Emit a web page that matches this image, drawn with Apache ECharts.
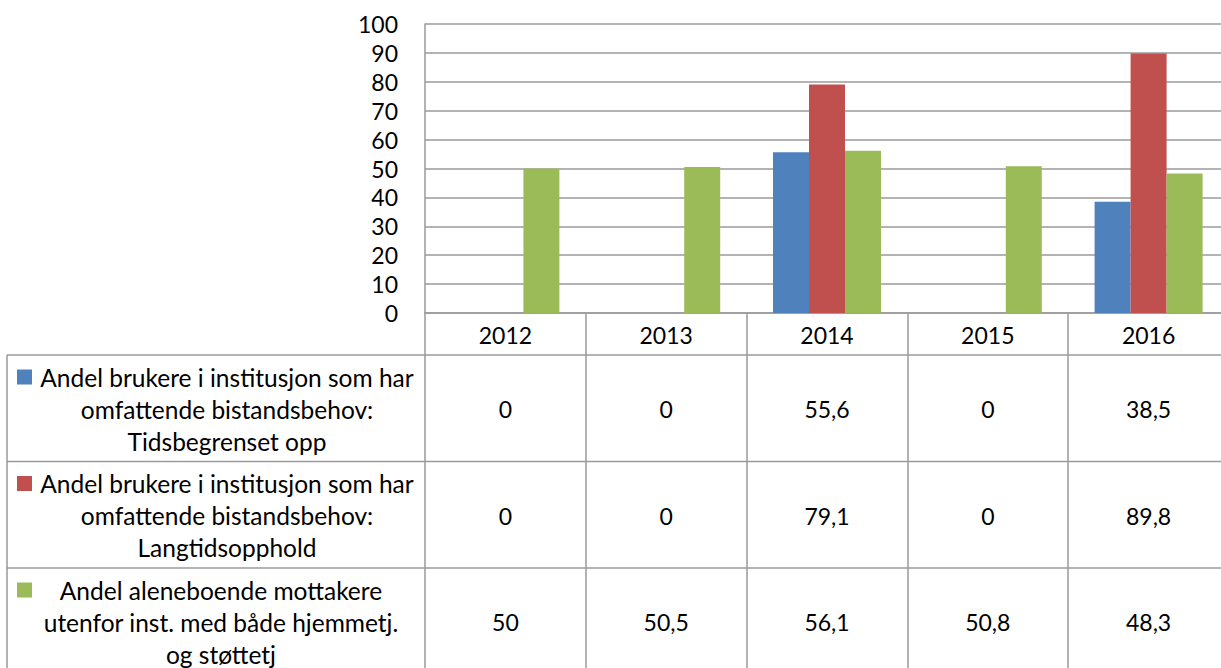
<!DOCTYPE html>
<html>
<head>
<meta charset="utf-8">
<script src="https://cdn.jsdelivr.net/npm/echarts@6/dist/echarts.min.js"></script>
<style>
  html, body { margin: 0; padding: 0; background: #fff; }
  #chart { width: 1221px; height: 668px; }
</style>
</head>
<body>
<div id="chart"></div>
<script>
// Years on the category axis / table header
const years = ['2012', '2013', '2014', '2015', '2016'];

// Series values (percent)
const tidsbegrenset = [0, 0, 55.6, 0, 38.5];
const langtidsopphold = [0, 0, 79.1, 0, 89.8];
const aleneboende = [50, 50.5, 56.1, 50.8, 48.3];

// Series names, and how they wrap in the data table's legend column
const seriesNames = [
  'Andel brukere i institusjon som har omfattende bistandsbehov: Tidsbegrenset opp',
  'Andel brukere i institusjon som har omfattende bistandsbehov: Langtidsopphold',
  'Andel aleneboende mottakere utenfor inst. med både hjemmetj. og støttetj'
];
const nameLines = [
  ['Andel brukere i institusjon som har', 'omfattende bistandsbehov:', 'Tidsbegrenset opp'],
  ['Andel brukere i institusjon som har', 'omfattende bistandsbehov:', 'Langtidsopphold'],
  ['Andel aleneboende mottakere', 'utenfor inst. med både hjemmetj.', 'og støttetj']
];
const seriesColors = ['#4F81BD', '#C0504D', '#9BBB59'];

// Y axis ticks
const yMin = 0, yMax = 100, yStep = 10;

const FONT = 'Lato, "Liberation Sans", sans-serif';
const NUM_SIZE = 23;
const NAME_SIZE = 24.5;
const LINE = '#9a9a9a';

const chart = echarts.init(document.getElementById('chart'), null, { renderer: 'svg' });

const values = [tidsbegrenset, langtidsopphold, aleneboende];

const option = {
  animation: false,
  textStyle: { fontFamily: FONT },
  grid: { left: 425, top: 24, width: 804, height: 289, outerBoundsMode: 'none', containLabel: false },
  xAxis: {
    type: 'category',
    data: years,
    axisLine: { lineStyle: { color: LINE, width: 1.5 } },
    axisTick: { show: true, length: 360, lineStyle: { color: LINE, width: 1.5 } },
    axisLabel: { fontSize: NUM_SIZE, color: '#000', margin: 10, fontFamily: FONT }
  },
  yAxis: {
    type: 'value',
    min: yMin, max: yMax, interval: yStep,
    axisLine: { show: true, lineStyle: { color: LINE, width: 1.5 } },
    axisTick: { show: false },
    axisLabel: { fontSize: NUM_SIZE, color: '#000', margin: 27, fontFamily: FONT },
    splitLine: { lineStyle: { color: LINE, width: 1.5 } }
  },
  series: values.map((data, i) => ({
    type: 'bar',
    name: seriesNames[i],
    data: data,
    barWidth: 36,
    barGap: '0%',
    itemStyle: { color: seriesColors[i] }
  }))
};

chart.setOption(option);

// Data table below the plot: rows for each series, columns aligned with the category axis
const tableTop = 355;
const rowH = 106.5;
const tableLeft = 7;
const tableRight = 1221;
const lineH = 32;
const textCenters = [227, 227, 221];

const fmt = v => String(v).replace('.', ',');

const graphics = [];

// horizontal rules of the table
for (let r = 0; r < 3; r++) {
  const y = tableTop + r * rowH;
  graphics.push({
    type: 'line',
    shape: { x1: tableLeft, y1: y, x2: tableRight, y2: y },
    style: { stroke: LINE, lineWidth: 1.5 },
    silent: true
  });
}
// left border of the legend column
graphics.push({
  type: 'line',
  shape: { x1: tableLeft, y1: tableTop, x2: tableLeft, y2: 668 },
  style: { stroke: LINE, lineWidth: 1.5 },
  silent: true
});

values.forEach((data, r) => {
  const cy = tableTop + r * rowH + 54;
  const firstLineY = cy - lineH;
  // legend key
  graphics.push({
    type: 'rect',
    shape: { x: 17, y: firstLineY - 7.5, width: 15, height: 15 },
    style: { fill: seriesColors[r] },
    silent: true
  });
  // series name
  nameLines[r].forEach((t, k) => {
    graphics.push({
      type: 'text',
      style: {
        text: t, x: textCenters[r], y: firstLineY + k * lineH,
        font: NAME_SIZE + 'px ' + FONT, fill: '#000',
        textAlign: 'center', textVerticalAlign: 'middle'
      },
      silent: true
    });
  });
  // values per year
  data.forEach((v, c) => {
    const x = chart.convertToPixel({ xAxisIndex: 0 }, years[c]);
    graphics.push({
      type: 'text',
      style: {
        text: fmt(v), x: x, y: cy,
        font: NUM_SIZE + 'px ' + FONT, fill: '#000',
        textAlign: 'center', textVerticalAlign: 'middle'
      },
      silent: true
    });
  });
});

chart.setOption({ graphic: { elements: graphics } });
</script>
</body>
</html>
